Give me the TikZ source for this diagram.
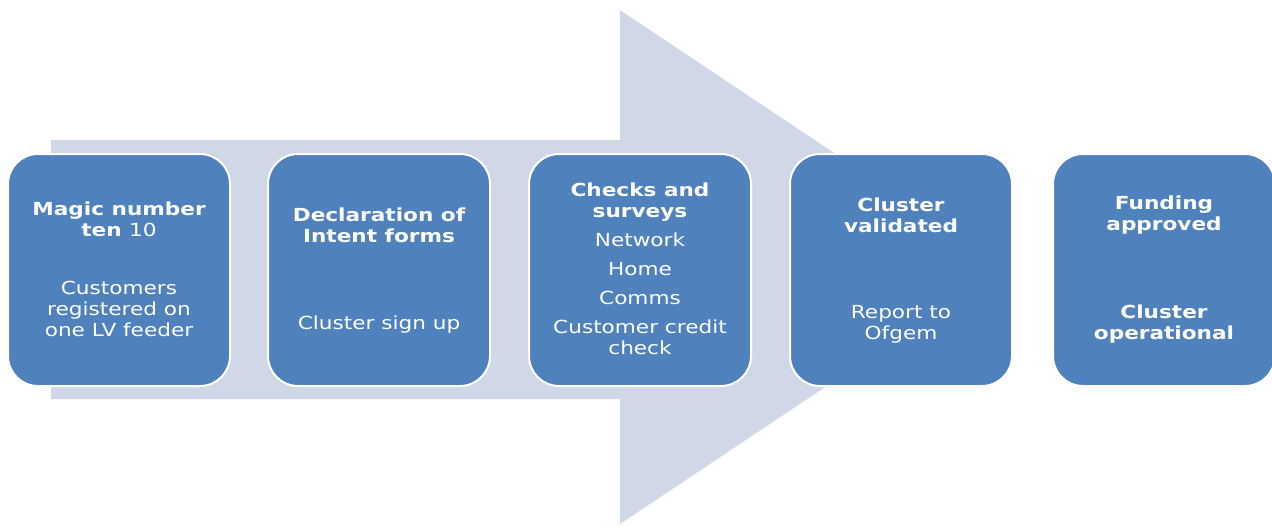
\documentclass[tikz,border=0pt]{standalone}
\usepackage{fontspec}
\setmainfont{DejaVu Sans}
\definecolor{arrowfill}{HTML}{D0D8E8}
\definecolor{boxfill}{HTML}{4F81BD}
\begin{document}
\begin{tikzpicture}[x=1pt,y=-1pt,
  stepbox/.style={draw=white, line width=2pt, fill=boxfill, rounded corners=30pt,
    minimum width=222pt, minimum height=232pt, inner sep=0pt},
  lbl/.style={text=white, align=center, inner sep=0pt,
    font=\fontsize{18}{21}\selectfont, xscale=1.2}]
\useasboundingbox (0,0) rectangle (1272,525);
\fill[arrowfill] (51,140) -- (620,140) -- (620,10) -- (1005,267) -- (620,524)
  -- (620,399) -- (51,399) -- cycle;
\node[stepbox] (b1) at (119,270) {};
\node[stepbox] (b2) at (379,270) {};
\node[stepbox] (b3) at (640,270) {};
\node[stepbox] (b4) at (901,270) {};
\node[stepbox] (b5) at (1164,270) {};
% box 1
\node[lbl] (t1) at (119,219) {\bfseries Magic number\\\bfseries ten \mdseries 10};
\node[lbl] (d1) at (119,309) {Customers\\registered on\\one LV feeder};
% box 2
\node[lbl] (t2) at (379,225) {\bfseries Declaration of\\\bfseries Intent forms};
\node[lbl] (d2) at (379,325) {Cluster sign up};
% box 3
\node[lbl] (t3) at (640,269) {\bfseries Checks and\\\bfseries surveys\\[8pt]
  Network\\[8pt]Home\\[8pt]Comms\\[8pt]Customer credit\\check};
% box 4
\node[lbl] (t4) at (901,215) {\bfseries Cluster\\\bfseries validated};
\node[lbl] (d4) at (901,324) {Report to\\Ofgem};
% box 5
\node[lbl] (t5) at (1164,215) {\bfseries Funding\\\bfseries approved};
\node[lbl] (d5) at (1164,324) {\bfseries Cluster\\\bfseries operational};
\end{tikzpicture}
\end{document}
